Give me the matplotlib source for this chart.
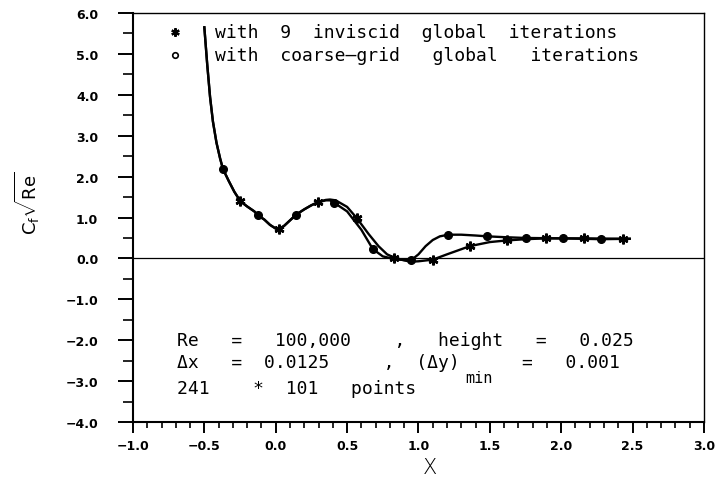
import numpy as np
import matplotlib
matplotlib.use('Agg')
import matplotlib.pyplot as plt
from matplotlib.ticker import MultipleLocator, FuncFormatter

# inviscid global iterations (stars)
x_inv = [-0.50, -0.48, -0.46, -0.44, -0.415, -0.39, -0.37, -0.33, -0.29, -0.248, -0.20,
         -0.15, -0.124, -0.08, -0.04, 0.0, 0.02, 0.06, 0.10, 0.143, 0.20, 0.25, 0.293,
         0.35, 0.38, 0.42, 0.50, 0.567, 0.65, 0.72, 0.78, 0.83, 0.90, 0.95, 1.00, 1.10,
         1.20, 1.36, 1.50, 1.62, 1.75, 1.89, 2.16, 2.43, 2.48]
y_inv = [5.65, 4.75, 3.95, 3.35, 2.83, 2.45, 2.19, 1.90, 1.63, 1.40, 1.27,
         1.15, 1.06, 0.95, 0.82, 0.73, 0.71, 0.80, 0.93, 1.07, 1.20, 1.30, 1.37,
         1.43, 1.44, 1.42, 1.26, 0.99, 0.60, 0.30, 0.10, 0.02, -0.05, -0.08, -0.07, -0.03,
         0.10, 0.30, 0.40, 0.44, 0.47, 0.49, 0.49, 0.48, 0.48]
x_inv_mk = [-0.248, 0.02, 0.293, 0.567, 0.83, 1.10, 1.36, 1.62, 1.89, 2.16, 2.43]
y_inv_mk = [1.40, 0.71, 1.37, 0.99, 0.02, -0.03, 0.30, 0.44, 0.49, 0.49, 0.48]

# coarse-grid global iterations (circles)
x_cg = [-0.50, -0.48, -0.46, -0.44, -0.415, -0.39, -0.37, -0.33, -0.29, -0.248, -0.20,
        -0.15, -0.124, -0.08, -0.04, 0.0, 0.02, 0.06, 0.10, 0.143, 0.20, 0.25, 0.293,
        0.35, 0.38, 0.41, 0.50, 0.60, 0.68, 0.75, 0.85, 0.95, 1.00, 1.05, 1.10, 1.15,
        1.21, 1.30, 1.40, 1.48, 1.60, 1.75, 2.01, 2.28, 2.48]
y_cg = [5.65, 4.75, 3.95, 3.35, 2.83, 2.45, 2.19, 1.90, 1.63, 1.40, 1.27,
        1.15, 1.05, 0.95, 0.82, 0.73, 0.71, 0.80, 0.93, 1.07, 1.20, 1.30, 1.37,
        1.42, 1.42, 1.36, 1.15, 0.70, 0.23, 0.05, -0.03, -0.04, 0.10, 0.30, 0.45, 0.54,
        0.58, 0.58, 0.56, 0.54, 0.52, 0.50, 0.49, 0.47, 0.48]
x_cg_mk = [-0.37, -0.124, 0.143, 0.41, 0.68, 0.95, 1.21, 1.48, 1.75, 2.01, 2.28]
y_cg_mk = [2.19, 1.05, 1.07, 1.36, 0.23, -0.04, 0.58, 0.54, 0.50, 0.49, 0.47]

legend_labels = ['with  9  inviscid  global  iterations',
                 'with  coarse\u2014grid   global   iterations']
info_line1 = 'Re   =   100,000    ,   height   =   0.025'
info_line2a = '\u0394x   =  0.0125     ,  (\u0394y)'
info_line2b = 'min'
info_line2c = '=   0.001'
info_line3 = '241    *  101   points'

plt.rcParams['font.family'] = ['DejaVu Sans']
plt.rcParams['mathtext.fontset'] = 'custom'
plt.rcParams['mathtext.rm'] = 'DejaVu Sans'
plt.rcParams['mathtext.it'] = 'DejaVu Sans:italic'

mono = 'DejaVu Sans Mono'
star = (6, 2, 0)

fig = plt.figure(figsize=(7.25, 4.85), dpi=100)
ax = fig.add_axes([0.1834, 0.1278, 0.7876, 0.8433])

ax.plot(x_inv, y_inv, 'k-', lw=1.7)
ax.plot(x_cg, y_cg, 'k-', lw=1.7)
ax.plot(x_inv_mk, y_inv_mk, 'k', ls='none', marker=star, ms=7, mew=1.8)
ax.plot(x_cg_mk, y_cg_mk, 'ko', ms=5.5)
ax.axhline(0, color='k', lw=0.9)

ax.set_xlim(-1.0, 3.0)
ax.set_ylim(-4.0, 6.0)
ax.xaxis.set_major_locator(MultipleLocator(0.5))
ax.xaxis.set_minor_locator(MultipleLocator(0.1))
ax.yaxis.set_major_locator(MultipleLocator(1.0))
ax.yaxis.set_minor_locator(MultipleLocator(0.5))
fmt = FuncFormatter(lambda v, p: '{:.1f}'.format(v).replace('-', '\u2212'))
ax.xaxis.set_major_formatter(fmt)
ax.yaxis.set_major_formatter(fmt)
ax.tick_params(which='both', direction='out', labelsize=9)
ax.tick_params(axis='x', which='major', length=8, width=1.4, pad=4)
ax.tick_params(axis='x', which='minor', length=4, width=1.2)
ax.tick_params(axis='y', which='major', length=11, width=1.4, pad=14)
ax.tick_params(axis='y', which='minor', length=7, width=1.2)
for lab in ax.get_xticklabels() + ax.get_yticklabels():
    lab.set_fontweight('bold')
ax.spines['left'].set_linewidth(1.5)
ax.spines['bottom'].set_linewidth(1.5)
ax.spines['top'].set_linewidth(1.0)
ax.spines['right'].set_linewidth(1.0)

# legend, drawn by hand to keep the plotter look
ax.plot([0.0736], [0.9535], 'k', ls='none', marker=star, ms=6, mew=1.6,
        transform=ax.transAxes, clip_on=False)
ax.plot([0.0736], [0.8973], 'ko', mfc='white', ms=4, mew=1.2,
        transform=ax.transAxes, clip_on=False)
ax.text(0.1436, 0.9535, legend_labels[0], transform=ax.transAxes, family=mono,
        fontsize=13, va='center')
ax.text(0.1436, 0.8973, legend_labels[1], transform=ax.transAxes, family=mono,
        fontsize=13, va='center')

ax.text(0.077, 0.2005, info_line1, transform=ax.transAxes, family=mono, fontsize=13, va='center')
ax.text(0.077, 0.1467, info_line2a, transform=ax.transAxes, family=mono, fontsize=13, va='center')
ax.text(0.5814, 0.110, info_line2b, transform=ax.transAxes, family=mono, fontsize=11, va='center')
ax.text(0.681, 0.1467, info_line2c, transform=ax.transAxes, family=mono, fontsize=13, va='center')
ax.text(0.077, 0.0831, info_line3, transform=ax.transAxes, family=mono, fontsize=13, va='center')

ax.set_ylabel(r'$\mathrm{C_f\sqrt{Re}}$', fontsize=13, va='center', ha='center')
ax.yaxis.set_label_coords(-0.184, 0.538)
ax.set_xlabel('X', fontsize=15, fontweight='light', va='center')
ax.xaxis.set_label_coords(0.52, -0.11)

fig.savefig('out.png', dpi=100)
